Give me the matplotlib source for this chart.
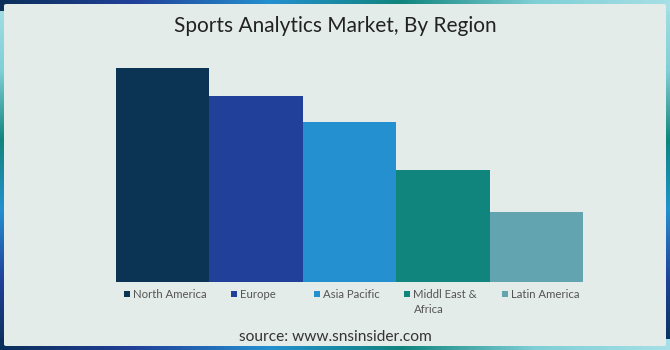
import numpy as np
import matplotlib
matplotlib.use("Agg")
import matplotlib.pyplot as plt
from matplotlib.colors import LinearSegmentedColormap
from matplotlib.patches import FancyBboxPatch

regions = ["North America", "Europe", "Asia Pacific", "Middl East &\nAfrica", "Latin America"]
values = [213, 185, 159, 111, 69]
colors = ["#0b3353", "#21409a", "#2490d0", "#10857d", "#62a5b0"]

W, H = 670, 350
fig = plt.figure(figsize=(W / 100, H / 100), dpi=100)

# gradient frame behind the panel
frame = LinearSegmentedColormap.from_list(
    "frame", ["#0b2f5a", "#21409a", "#2490d0", "#10857d", "#7fcfd6", "#a6dfe6"])
xx, yy = np.meshgrid(np.linspace(0, 1, W), np.linspace(0, 1, H))
t = np.where((yy < 0.03) | (yy > 0.97), xx, 1 - yy)
bg = fig.add_axes([0, 0, 1, 1])
bg.imshow(t, cmap=frame, aspect="auto", extent=[0, 1, 0, 1], origin="upper")
bg.add_patch(FancyBboxPatch((4 / W, 4 / H), 662 / W, 342 / H,
                            boxstyle="round,pad=0,rounding_size=0.004",
                            facecolor="#e4ecea", edgecolor="none"))
bg.set_xlim(0, 1)
bg.set_ylim(0, 1)
bg.axis("off")

# one data unit == one pixel vertically (axes 213 px tall)
ax = fig.add_axes([116 / W, 1 - 281.5 / H, 467 / W, 213.5 / H])
ax.set_facecolor("none")
x = np.arange(len(regions))
ax.bar(x, values, width=1.0, color=colors)
ax.set_xlim(-0.5, len(regions) - 0.5)
ax.set_ylim(0, max(values))
ax.axis("off")

# legend under the bars, one entry per bar
legend_shift = [0.12, 0.26, 0.15, 0.12, 0.16]
for i, (lab, c) in enumerate(zip(regions, colors)):
    lx = x[i] - 0.5 + legend_shift[i]
    ax.scatter([lx], [-12.5], marker="s", s=24, color=c, clip_on=False, linewidths=0)
    ax.text(lx + 0.065, -16, lab.split("\n")[0], ha="left", va="baseline", fontsize=8.2,
            color="#555555", family="Lato", clip_on=False)
    if "\n" in lab:
        ax.text(lx + 0.065, -31, lab.split("\n")[1], ha="left", va="baseline",
                fontsize=8.2, color="#555555", family="Lato", clip_on=False)

fig.text(0.5, 1 - 32 / H, "Sports Analytics Market, By Region",
         ha="center", va="baseline", fontsize=15, color="#222222", family="Lato")

fig.text(0.5, 1 - 341 / H, "source: www.snsinsider.com",
         ha="center", va="baseline", fontsize=11.2, color="#333333", family="Lato")

fig.savefig("out.png", dpi=100)
